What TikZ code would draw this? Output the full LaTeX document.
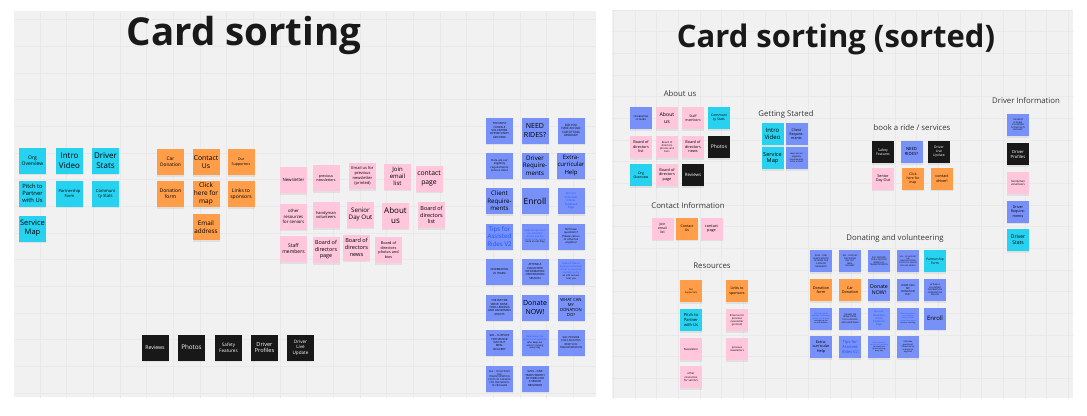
\documentclass[tikz,border=0pt]{standalone}
\usepackage{fontspec}
\setmainfont{Open Sans}
\usepackage{xcolor}
\usepackage{tikz}
\usetikzlibrary{shadows}
\definecolor{boardgray}{RGB}{241,241,241}
\definecolor{gridgray}{RGB}{233,233,233}
\definecolor{notecyan}{RGB}{38,210,240}
\definecolor{noteorange}{RGB}{255,157,72}
\definecolor{notepink}{RGB}{255,198,220}
\definecolor{noteblue}{RGB}{120,145,248}
\definecolor{noteblack}{RGB}{24,24,24}
\definecolor{linkblue}{RGB}{25,85,255}
\definecolor{labelgray}{RGB}{55,55,55}

\begin{document}
\begin{tikzpicture}[
    x=1pt, y=-1pt,
    card/.style={rectangle, minimum width=27pt, minimum height=26pt, inner sep=0.5pt, align=center, drop shadow={shadow xshift=0.3pt, shadow yshift=-1.5pt, opacity=0.15}},
    minicard/.style={card, minimum width=22pt, minimum height=22pt},
    cyancard/.style={fill=notecyan},
    orangecard/.style={fill=noteorange},
    pinkcard/.style={fill=notepink},
    bluecard/.style={fill=noteblue},
    blackcard/.style={fill=noteblack, text=white},
    linkcard/.style={fill=noteblue, text=linkblue},
    txt/.style={font=\fontsize{#1}{\fpeval{1.2*#1}}\selectfont},
    board/.style={fill=boardgray},
    gridline/.style={draw=gridgray, line width=0.5pt},
    heading/.style={anchor=base, text=black!90},
    grouplabel/.style={font=\fontsize{7.8}{9}\selectfont, text=labelgray}
]
\useasboundingbox (0,0) rectangle (1087,415);
\fill[white] (0,0) rectangle (1087,415);

% Boards
\fill[board] (14,11) rectangle (596,397);
\fill[board] (612,10) rectangle (1073,398);

% Grid, left board
\begin{scope}
\clip (14,11) rectangle (596,397);
\foreach \k in {0,...,22} {
    \draw[gridline] ({13.33+26.67*\k},0) -- ++(0,420);
}
\foreach \k in {0,...,15} {
    \draw[gridline] (0,{19.67+26.67*\k}) -- ++(600,0);
}
\end{scope}

% Grid, right board
\begin{scope}
\clip (612,10) rectangle (1073,398);
\foreach \k in {0,...,22} {
    \draw[gridline] ({613.33+21.67*\k},0) -- ++(0,420);
}
\foreach \k in {0,...,18} {
    \draw[gridline] (600,{10+21.67*\k}) -- ++(500,0);
}
\end{scope}

% Titles
\node[heading, font=\fontsize{38.5}{44}\selectfont\bfseries] (titleL) at (244,45) {Card sorting};
\node[heading, font=\fontsize{31}{36}\selectfont\bfseries] (titleR) at (836,47) {Card sorting (sorted)};

% ---------------- Unsorted cards ----------------
% Cyan cards
\node[card, cyancard, txt=5] (orgovL) at (32.5,160.5) {Org\\Overview};
\node[card, cyancard, txt=8] (introL) at (69.5,160.5) {Intro\\Video};
\node[card, cyancard, txt=8] (drstatsL) at (105.5,160.5) {Driver\\Stats};
\node[card, cyancard, txt=5.8] (pitchL) at (32.5,193.5) {Pitch to\\Partner\\with Us};
\node[card, cyancard, txt=4] (partnerL) at (69.5,193.5) {Partnership\\Form};
\node[card, cyancard, txt=4.2] (commstatsL) at (105.5,193.5) {Communi\\ty Stats};
\node[card, cyancard, txt=7.5] (servmapL) at (32.5,228.5) {Service\\Map};

% Orange cards
\node[card, orangecard, txt=4.8] (cardonL) at (170.5,162) {Car\\Donation};
\node[card, orangecard, txt=6.8] (contactL) at (206,162) {Contact\\Us};
\node[card, orangecard, txt=3.6] (suppL) at (241,162) {Our\\Supporters};
\node[card, orangecard, txt=5] (donformL) at (170.5,194) {Donation\\form};
\node[card, orangecard, txt=6.5] (clickL) at (206,194) {Click\\here for\\map};
\node[card, orangecard, txt=5] (linksL) at (241,194) {Links to\\sponsors};
\node[card, orangecard, txt=6.3] (emailL) at (206,227) {Email\\address};

% Pink cards
\node[card, pinkcard, txt=4.3] (newslL) at (293.5,180) {Newsletter};
\node[card, pinkcard, txt=3.6] (prevnewsL) at (326,178) {previous\\newsletters};
\node[card, pinkcard, txt=4] (emailusL) at (362.5,176) {Email us for\\previous\\newsletter\\(printed)};
\node[card, pinkcard, txt=6] (joinL) at (397.5,176.5) {Join\\email\\list};
\node[card, pinkcard, txt=6.8] (contpageL) at (429,178.5) {contact\\page};
\node[card, pinkcard, txt=4.3] (otherresL) at (293.5,216.5) {other\\resources\\for seniors};
\node[card, pinkcard, txt=4] (handyL) at (326,215) {handyman\\volunteers};
\node[card, pinkcard, txt=6.2] (seniorL) at (360.5,214.5) {Senior\\Day Out};
\node[card, pinkcard, txt=8] (aboutL) at (395.5,215.5) {About\\us};
\node[card, pinkcard, txt=5.5] (boardlistL) at (431.5,215) {Board of\\directors\\list};
\node[card, pinkcard, txt=5] (staffL) at (293.5,249) {Staff\\members};
\node[card, pinkcard, txt=5.4] (boardpageL) at (326,250) {Board of\\directors\\page};
\node[card, pinkcard, txt=5.6] (boardnewsL) at (356.5,247.5) {Board of\\directors\\news};
\node[card, pinkcard, txt=3.8] (boardbiosL) at (388.5,250) {Board of\\directors\\photos and\\bios};

% Blue cards
\node[card, bluecard, txt=2.8] (flexL) at (499.5,130.5) {THE MOST\\FLEXIBLE\\VOLUNTEER\\OPPORTUNITY\\AROUND!};
\node[card, bluecard, txt=7] (needridesL) at (535,130.5) {NEED\\RIDES?};
\node[card, bluecard, txt=3] (oldcarL) at (571,130.5) {DID YOU\\HAVE AN OLD\\CAR SITTING\\AROUND?};
\node[card, bluecard, txt=2.8] (eligL) at (499.5,165.5) {Here are our\\eligibility\\requirements\\to be a client};
\node[card, bluecard, txt=6.2] (drreqL) at (535,165.5) {Driver\\Require-\\ments};
\node[card, bluecard, txt=6] (extraL) at (571,165.5) {Extra-\\curricular\\Help};
\node[card, bluecard, txt=6.2] (clreqL) at (499.5,201) {Client\\Require-\\ments};
\node[card, bluecard, txt=8.5] (enrollL) at (535,201) {Enroll};
\node[card, linkcard, txt=2.8] (fbL) at (571,201) {Join our\\Volunteer\\Online\\Facebook\\Page};
\node[card, linkcard, txt=6.2] (tipsL) at (499.5,236.5) {Tips for\\Assisted\\Rides V2};
\node[card, linkcard, txt=2.4] (storiesL) at (535,236.5) {Read stories from\\our volunteer\\drivers and the\\seniors they serve\\\textcolor{black}{more on our blog}};
\node[card, bluecard, txt=2.8] (questL) at (571,236.5) {Still have\\questions?\\Please call us\\or email us\\anytime!};
\node[card, bluecard, txt=2.8] (celebL) at (499.5,271.5) {CELEBRATING\\25 YEARS!};
\node[card, bluecard, txt=2.8] (attendL) at (535,271.5) {ATTEND A\\VOLUNTEER\\INFORMATION\\/ORIENTATION\\SESSION};
\node[card, linkcard, txt=2.4] (sessionL) at (571,271.5) {Find out how to\\become a volunteer\\driver in your area\\and sign up for\\\textcolor{black}{an info session}\\\textcolor{black}{near you}};
\node[card, bluecard, txt=2.8] (servesL) at (499.5,307.5) {THE WAY WE\\SERVE: DRIVE,\\TOOL LENDING\\AND HANDYMAN\\ASSISTS};
\node[card, bluecard, txt=7] (donateL) at (535,307.5) {Donate\\NOW!};
\node[card, bluecard, txt=4.2] (whatcanL) at (571,307.5) {WHAT CAN\\MY\\DONATION\\DO?};
\node[card, bluecard, txt=2.8] (d20L) at (499.5,342.5) {\$20 -- SUPPLIES\\FOR SENIOR\\DAY OUT\\MEAL\\DELIVERY};
\node[card, linkcard, txt=2.4] (donorsL) at (535,342.5) {Read about the\\donors and sponsors\\\textcolor{black}{who keep our}\\\textcolor{black}{seniors moving}\\\textcolor{black}{every day}};
\node[card, bluecard, txt=2.6] (d40L) at (571,342.5) {\$40: PROVIDE\\FOR A MONTH'S\\WORTH OF\\TRANSPORTATION};
\node[card, bluecard, txt=2.4] (d65L) at (499.5,378.5) {\$65 -- TO SUPPORT\\THE\\TRANSPORTATION\\COSTS OF A SENIOR\\FOR ONE MONTH\\OF PROGRAM};
\node[card, bluecard, txt=2.8] (d250L) at (535,378.5) {\$250 -- ONE\\YEAR'S WORTH\\OF RIDES FOR\\A SENIOR\\NEIGHBOR};

% Black cards
\node[card, blackcard, txt=5.2] (reviewsL) at (155,347.5) {Reviews};
\node[card, blackcard, txt=6.3] (photosL) at (191.5,347.5) {Photos};
\node[card, blackcard, txt=4.6] (safetyL) at (228.5,347.5) {Safety\\Features};
\node[card, blackcard, txt=5.6] (profilesL) at (264.5,347.5) {Driver\\Profiles};
\node[card, blackcard, txt=4.6] (liveL) at (300.5,347.5) {Driver\\Live\\Update};

% ---------------- Sorted cards ----------------
% About us
\node[grouplabel] (aboutlbl) at (680,94) {About us};
\node[minicard, bluecard, txt=2.3] (celebR) at (641,118) {CELEBRATING\\25 YEARS!};
\node[minicard, pinkcard, txt=5.2] (aboutR) at (667,118) {About\\us};
\node[minicard, pinkcard, txt=3.4] (staffR) at (693,118) {Staff\\members};
\node[minicard, cyancard, txt=3.4] (commstatsR) at (719,118) {Communi\\ty Stats};
\node[minicard, pinkcard, txt=3.8] (boardlistR) at (641,147) {Board of\\directors\\list};
\node[minicard, pinkcard, txt=2.6] (boardbiosR) at (667,147) {Board of\\directors\\photos and\\bios};
\node[minicard, pinkcard, txt=3.8] (boardnewsR) at (693,147) {Board of\\directors\\news};
\node[minicard, blackcard, txt=5] (photosR) at (719,147) {Photos};
\node[minicard, cyancard, txt=3.4] (orgovR) at (641,175) {Org\\Overview};
\node[minicard, pinkcard, txt=3.8] (boardpageR) at (667,175) {Board of\\directors\\page};
\node[minicard, blackcard, txt=4.4] (reviewsR) at (693,175) {Reviews};

% Getting Started
\node[grouplabel] (startlbl) at (786,114) {Getting Started};
\node[minicard, cyancard, txt=6] (introR) at (772.5,134) {Intro\\Video};
\node[minicard, bluecard, txt=3.6] (clreqR) at (796.5,134) {Client\\Require-\\ments};
\node[minicard, cyancard, txt=5.6] (servmapR) at (772.5,158) {Service\\Map};
\node[minicard, bluecard, txt=2.2] (eligR) at (796.5,158) {Here are our\\eligibility\\requirements\\to be a client};

% book a ride / services
\node[grouplabel] (ridelbl) at (912,128) {book a ride / services};
\node[minicard, blackcard, txt=3.4] (safetyR) at (883,152) {Safety\\Features};
\node[minicard, bluecard, txt=4.2] (needridesR) at (911.5,152) {NEED\\RIDES?};
\node[minicard, blackcard, txt=3.4] (liveR) at (939,152) {Driver\\Live\\Update};
\node[minicard, pinkcard, txt=3.8] (seniorR) at (883,178.5) {Senior\\Day Out};
\node[minicard, orangecard, txt=3.4] (clickR) at (913,178.5) {Click\\here for\\map};
\node[minicard, orangecard, txt=3.8] (cdriverR) at (942,178.5) {contact\\driver!};

% Contact Information
\node[grouplabel] (contactlbl) at (688,206) {Contact Information};
\node[minicard, pinkcard, txt=3.4] (joinR) at (662.5,228.5) {Join\\email\\list};
\node[minicard, orangecard, txt=3.6] (contactR) at (687,228.5) {Contact\\Us};
\node[minicard, pinkcard, txt=3.8] (contpageR) at (711.5,228.5) {contact\\page};

% Resources
\node[grouplabel] (reslbl) at (712,266) {Resources};
\node[minicard, orangecard, txt=2.4] (suppR) at (691,291) {Our\\Supporters};
\node[minicard, orangecard, txt=3.6] (linksR) at (737,291) {Links to\\sponsors};
\node[minicard, cyancard, txt=4] (pitchR) at (691,320) {Pitch to\\Partner\\with Us};
\node[minicard, pinkcard, txt=2.6] (emailusR) at (737,320) {Email us for\\previous\\newsletter\\(printed)};
\node[minicard, pinkcard, txt=2.8] (newslR) at (691,349) {Newsletter};
\node[minicard, pinkcard, txt=2.6] (prevnewsR) at (737,349) {previous\\newsletters};
\node[minicard, pinkcard, txt=2.8] (otherresR) at (691,377) {other\\resources\\for seniors};

% Donating and volunteering
\node[grouplabel] (donlbl) at (895,238) {Donating and volunteering};
\node[minicard, bluecard, txt=2.2] (d250R) at (821,261) {\$250 -- ONE\\YEAR'S WORTH\\OF RIDES FOR\\A SENIOR\\NEIGHBOR};
\node[minicard, bluecard, txt=2.1] (d20R) at (850,261) {\$20 -- SUPPLIES\\FOR SENIOR\\DAY OUT\\MEAL\\DELIVERY};
\node[minicard, bluecard, txt=2.1] (d40R) at (879,261) {\$40: PROVIDE\\FOR A MONTH'S\\WORTH OF\\TRANSPORTATION};
\node[minicard, bluecard, txt=1.9] (d65R) at (908,261) {\$65 -- TO SUPPORT\\THE\\TRANSPORTATION\\COSTS OF A SENIOR\\FOR ONE MONTH};
\node[minicard, cyancard, txt=3.2] (partnerR) at (935,261) {Partnership\\Form};
\node[minicard, orangecard, txt=3.8] (donformR) at (821,290) {Donation\\form};
\node[minicard, orangecard, txt=3.8] (cardonR) at (850,290) {Car\\Donation};
\node[minicard, bluecard, txt=5.2] (donateR) at (879,290) {Donate\\NOW!};
\node[minicard, bluecard, txt=2.6] (whatcanR) at (908,290) {WHAT CAN\\MY\\DONATION\\DO?};
\node[minicard, bluecard, txt=2.1] (attendR) at (935,290) {ATTEND A\\VOLUNTEER\\INFORMATION\\/ORIENTATION\\SESSION};
\node[minicard, linkcard, txt=1.9] (sessionR) at (821,318.5) {Find out how to\\become a volunteer\\driver in your area\\\textcolor{black}{and sign up for}\\\textcolor{black}{an info session}};
\node[minicard, bluecard, txt=2.1] (servesR) at (850,318.5) {THE WAY WE\\SERVE: DRIVE,\\TOOL LENDING\\AND HANDYMAN};
\node[minicard, linkcard, txt=2.6] (fbR) at (879,318.5) {Join our\\Volunteer\\Online\\Facebook\\Page};
\node[minicard, linkcard, txt=1.8] (storiesR) at (908,318.5) {Read stories from\\our volunteer\\drivers and the\\seniors they serve\\\textcolor{black}{more on our blog}};
\node[minicard, bluecard, txt=6] (enrollR) at (935,318.5) {Enroll};
\node[minicard, bluecard, txt=3.8] (extraR) at (821,347) {Extra-\\curricular\\Help};
\node[minicard, linkcard, txt=4] (tipsR) at (850,347) {Tips for\\Assisted\\Rides V2};
\node[minicard, linkcard, txt=1.8] (donorsR) at (879,347) {Read about the\\donors and sponsors\\\textcolor{black}{who keep our}\\\textcolor{black}{seniors moving}\\\textcolor{black}{every day}};
\node[minicard, bluecard, txt=2.1] (questR) at (908,347) {Still have\\questions?\\Please call us\\or email us\\anytime!};

% Driver Information
\node[grouplabel] (driverlbl) at (1026,101) {Driver Information};
\node[minicard, bluecard, txt=2.1] (flexR) at (1018,125) {THE MOST\\FLEXIBLE\\VOLUNTEER\\OPPORTUNITY\\AROUND!};
\node[minicard, blackcard, txt=4.2] (profilesR) at (1018,154) {Driver\\Profiles};
\node[minicard, pinkcard, txt=2.8] (handyR) at (1018,183) {handyman\\volunteers};
\node[minicard, bluecard, txt=3.6] (drreqR) at (1018,211.5) {Driver\\Require-\\ments};
\node[minicard, cyancard, txt=5] (drstatsR) at (1018,240) {Driver\\Stats};
\end{tikzpicture}
\end{document}
